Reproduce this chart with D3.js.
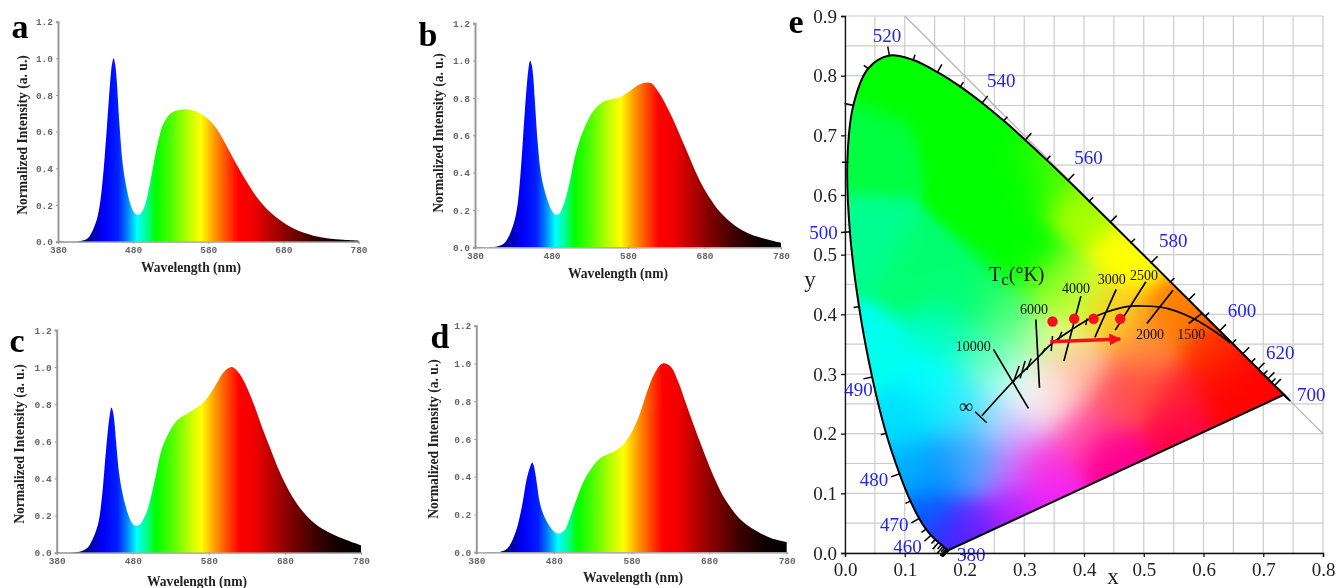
<!DOCTYPE html>
<html>
<head>
<meta charset="utf-8">
<style>
  html, body { margin: 0; padding: 0; background: #fff; }
  svg { display: block; filter: blur(0.4px); }
  .spec .tick text { font-family: "Liberation Mono", monospace; font-size: 9.5px; font-weight: bold; fill: #666; }
  .spec .tick line { stroke: #999; }
  .spec .domain { stroke: #999; }
  .title { font-family: "Liberation Serif", serif; font-weight: bold; font-size: 13.6px; fill: #222; }
  .letter { font-family: "Liberation Serif", serif; font-weight: bold; font-size: 34px; fill: #000; }
  .cie .tick text { font-family: "Liberation Serif", serif; font-size: 19px; fill: #222; }
  .cie .tick line, .cie .domain { stroke: #111; stroke-width: 1.3; }
  .wl { font-family: "Liberation Serif", serif; font-size: 19px; fill: #2323ee; text-anchor: middle; }
  .kelvin { font-family: "Liberation Serif", serif; font-size: 14px; fill: #111; text-anchor: middle; }
</style>
<script src="https://cdn.jsdelivr.net/npm/d3@7"></script>
</head>
<body>
<div id="chart"></div>
<script>
//wavelengths shared by the four spectra, finer around the blue peak
var wavelengths = [380,410,420,430,435,440,445,450,452,454,456,458,462,466,470,475,480,485,490,495,500,505,510,515,520,530,540,550,560,570,580,590,600,610,620,630,640,650,660,670,680,690,700,720,740,760,780];

var spectrumA = [.003,.004,.02,.10,.185,.36,.62,.90,.97,1,.97,.89,.63,.43,.32,.225,.168,.147,.153,.19,.27,.375,.485,.575,.64,.70,.717,.722,.715,.698,.668,.623,.556,.48,.405,.335,.27,.215,.17,.135,.105,.08,.06,.033,.018,.011,.006];
var spectrumB = [.003,.005,.03,.12,.21,.42,.72,.96,1,.98,.92,.80,.56,.40,.32,.25,.20,.175,.18,.22,.285,.375,.475,.55,.61,.70,.755,.785,.795,.805,.83,.86,.88,.88,.83,.76,.675,.58,.485,.39,.31,.245,.19,.115,.07,.045,.025];
var spectrumC = [.003,.005,.025,.10,.165,.32,.56,.75,.783,.76,.70,.60,.43,.33,.26,.195,.155,.145,.155,.19,.24,.32,.41,.51,.58,.665,.72,.745,.77,.80,.845,.91,.975,1,.965,.89,.79,.675,.57,.465,.375,.30,.24,.155,.105,.07,.04];
var spectrumD = [.002,.002,.02,.10,.17,.27,.39,.46,.475,.46,.42,.365,.26,.205,.17,.135,.11,.10,.105,.125,.175,.235,.29,.345,.39,.455,.50,.52,.54,.575,.635,.725,.85,.95,1,.985,.905,.79,.675,.565,.46,.365,.285,.175,.115,.075,.055];

var specXTicks = [380,480,580,680,780];
var specYTicks = [0,.2,.4,.6,.8,1,1.2];

//colour of the fill along the wavelength axis
var rainbowNm = [380,410,430,442,460,472,485,498,510,535,555,570,590,620,640,680,720,750,780];
var rainbowColor = ['#000018','#000060','#0000c0','#0000ff','#0020ff','#0080ff','#00ffff','#00ff90','#00ff00','#60ff00','#c0ff00','#ffff00','#ff9000','#ff0000','#f00000','#900000','#3c0000','#100000','#000000'];

//CIE 1931 spectral locus, every 5 nm
var locusNm = [380,385,390,395,400,405,410,415,420,425,430,435,440,445,450,455,460,465,470,475,480,485,490,495,500,505,510,515,520,525,530,535,540,545,550,555,560,565,570,575,580,585,590,595,600,605,610,615,620,625,630,635,640,645,650,655,660,665,670,675,680,685,690,695,700];
var locusX = [.1741,.1740,.1738,.1736,.1733,.1730,.1726,.1721,.1714,.1703,.1689,.1669,.1644,.1611,.1566,.1510,.1440,.1355,.1241,.1096,.0913,.0687,.0454,.0235,.0082,.0039,.0139,.0389,.0743,.1142,.1547,.1929,.2296,.2658,.3016,.3373,.3731,.4087,.4441,.4788,.5125,.5448,.5752,.6029,.6270,.6482,.6658,.6801,.6915,.7006,.7079,.7140,.7190,.7230,.7260,.7283,.7300,.7311,.7320,.7327,.7334,.7340,.7344,.7346,.7347];
var locusY = [.0050,.0050,.0049,.0049,.0048,.0048,.0048,.0048,.0051,.0058,.0069,.0086,.0109,.0138,.0177,.0227,.0297,.0399,.0578,.0868,.1327,.2007,.2950,.4127,.5384,.6548,.7502,.8120,.8338,.8262,.8059,.7816,.7543,.7243,.6923,.6589,.6245,.5896,.5547,.5202,.4866,.4544,.4242,.3965,.3725,.3514,.3340,.3197,.3083,.2993,.2920,.2859,.2809,.2770,.2740,.2717,.2700,.2689,.2680,.2673,.2666,.2660,.2656,.2654,.2653];

var wlLabels = ['380','460','470','480','490','500','520','540','560','580','600','620','700'];
var wlLabelX = [.2115,.1045,.0825,.0485,.0225,-.036,.0705,.2615,.4075,.5495,.6645,.7285,.7805];
var wlLabelY = [-.002,.0115,.0485,.1235,.2745,.5375,.8675,.7925,.6635,.5235,.4075,.3355,.2665];

//colours read inside the horseshoe, blended between these spots
var gamutX = [.08,.20,.30,.25,.03,.02,.13,.30,.04,.167,.15,.223,.29,.30,.321,.335,.357,.357,.39,.35,.40,.35,.475,.447,.558,.50,.39,.614,.65,.70,.64,.558,.447,.558,.447,.335,.335,.296,.279,.279,.223,.25,.20,.167,.11,.14,.173,.21,.10,.20,.25,.26,.21,.39,.50,.17];
var gamutY = [.80,.72,.62,.59,.68,.52,.46,.50,.33,.368,.30,.34,.35,.268,.273,.256,.283,.357,.424,.45,.58,.63,.50,.396,.396,.34,.31,.34,.30,.28,.26,.256,.256,.211,.161,.145,.10,.206,.145,.072,.145,.22,.25,.145,.145,.06,.016,.04,.22,.18,.30,.40,.42,.21,.28,.24];
var gamutColor = ['#00ff00','#00ff00','#00ff00','#00ff00','#00ff40','#00ff90','#00ff70','#00ff00','#00ffee','#00ffc0','#00ffff','#40ffb0','#90ffa0','#e0ffff','#ffffff','#ffe0e0','#ffc8b8','#e8ff90','#d0ff30','#80ff20','#a8ff00','#50ff00','#ffff00','#ffc820','#ff8000','#ff9040','#ffb898','#ff3000','#ff1000','#ff0000','#ff0000','#ff2030','#ff5060','#ff0050','#ff0090','#ff30d0','#f020ff','#e0a0ff','#d070ff','#b020ff','#60a0ff','#a0e0ff','#50e8ff','#0090ff','#00b0ff','#0060ff','#4020ff','#7020ff','#00e0ff','#40b0ff','#90ffe0','#40ff70','#00ff70','#ff50a8','#ff5040','#00f0ff'];
var gamutSigma = .033;

//planckian locus
var planckX = [.229,.281,.321,.346,.382,.405,.438,.472,.499,.539,.583,.628,.645];
var planckY = [.230,.287,.326,.351,.376,.390,.404,.413,.414,.410,.393,.365,.352];

var isoNames = ['10000','6000','4000','3000','2500','2000','1500'];
var isoX1 = [.2485,.3194,.3948,.4539,.5036,.5489,.5974];
var isoY1 = [.3412,.3914,.4305,.4417,.4545,.4405,.4015];
var isoX2 = [.307,.3255,.3663,.4182,.4523,.5053,.5751];
var isoY2 = [.2423,.2769,.3216,.3613,.3735,.3847,.3847];
var isoLabelX = [.2145,.3165,.3865,.4465,.5005,.5105,.5795];
var isoLabelY = [.3475,.4095,.4435,.4585,.4655,.3675,.3675];

//end cap at infinity, then the short marks along the planckian curve
var minorX1 = [.2178,.2915,.3015,.3116,.335,.3473,.3629,.4048];
var minorY1 = [.2367,.3133,.3217,.3261,.3429,.3636,.3709,.3931];
var minorX2 = [.2373,.282,.2931,.3043,.3294,.3451,.3573,.4031];
var minorY2 = [.2183,.2869,.2926,.3066,.3333,.3384,.3568,.3819];

var dotX = [.3473,.3836,.416,.4606];
var dotY = [.388,.3925,.3925,.3925];
var arrowX = [.3434,.4606];
var arrowY = [.354,.3585];

var cieXTicks = [0,.1,.2,.3,.4,.5,.6,.7,.8];
var cieYTicks = [0,.1,.2,.3,.4,.5,.6,.7,.8,.9];
var gridStep = d3.range(0, 19).map(function(i) { return i * .05; });

var width = 1338, height = 588;
var svg = d3.select('#chart').append('svg').attr('width', width).attr('height', height);
var defs = svg.append('defs');

//spectrum panels
function drawSpectrum(id, values, box) {
  var x = d3.scaleLinear().domain([380, 780]).range([box.left, box.right]);
  var y = d3.scaleLinear().domain([0, 1.2]).range([box.bottom, box.top]);
  var g = svg.append('g').attr('class', 'spec');

  var grad = defs.append('linearGradient').attr('id', 'rainbow-' + id)
    .attr('gradientUnits', 'userSpaceOnUse')
    .attr('x1', x(380)).attr('x2', x(780)).attr('y1', 0).attr('y2', 0);
  grad.selectAll('stop').data(rainbowNm).enter().append('stop')
    .attr('offset', function(d) { return (d - 380) / 400; })
    .attr('stop-color', function(d, i) { return rainbowColor[i]; });

  var area = d3.area()
    .x(function(d, i) { return x(wavelengths[i]); })
    .y0(y(0))
    .y1(function(d) { return y(d); })
    .curve(d3.curveCatmullRom);
  g.append('path').datum(values).attr('d', area).attr('fill', 'url(#rainbow-' + id + ')');

  var xAxis = g.append('g').attr('transform', 'translate(0,' + y(0) + ')')
    .call(d3.axisBottom(x).tickValues(specXTicks).tickSize(2).tickPadding(3).tickFormat(d3.format('d')));
  xAxis.select('.domain').attr('stroke-width', 1.2);

  var yAxis = g.append('g').attr('transform', 'translate(' + x(380) + ',0)')
    .call(d3.axisLeft(y).tickValues(specYTicks).tickSize(2).tickPadding(3).tickFormat(d3.format('.1f')));
  yAxis.select('.domain').attr('stroke-width', 2);

  svg.append('text').attr('class', 'title').attr('text-anchor', 'middle')
    .attr('x', box.xTitleX).attr('y', box.xTitleY).text('Wavelength (nm)');
  svg.append('text').attr('class', 'title').attr('text-anchor', 'middle')
    .attr('transform', 'translate(' + box.yTitleX + ',' + box.yTitleY + ') rotate(-90)')
    .text('Normalized Intensity (a. u.)');
  svg.append('text').attr('class', 'letter').attr('text-anchor', 'middle')
    .attr('x', box.letterX).attr('y', box.letterY).text(id);
}

drawSpectrum('a', spectrumA, {left: 58, right: 358.5, top: 21.7, bottom: 241.7, xTitleX: 191, xTitleY: 272, yTitleX: 27, yTitleY: 135, letterX: 20, letterY: 38});
drawSpectrum('b', spectrumB, {left: 475, right: 781, top: 23.3, bottom: 247.3, xTitleX: 618, xTitleY: 278, yTitleX: 443, yTitleY: 133, letterX: 428, letterY: 46});
drawSpectrum('c', spectrumC, {left: 56.7, right: 361, top: 330, bottom: 552.7, xTitleX: 197, xTitleY: 586, yTitleX: 24, yTitleY: 444, letterX: 17, letterY: 352});
drawSpectrum('d', spectrumD, {left: 476.3, right: 786.7, top: 325.7, bottom: 552.3, xTitleX: 633, xTitleY: 582, yTitleX: 438, yTitleY: 439, letterX: 440, letterY: 348});

//chromaticity panel
var cx = d3.scaleLinear().domain([0, .8]).range([845, 1323]);
var cy = d3.scaleLinear().domain([0, .9]).range([553, 16]);
var cie = svg.append('g').attr('class', 'cie');

cie.append('g').selectAll('line').data(gridStep.filter(function(d) { return d <= .8; })).enter().append('line')
  .attr('x1', function(d) { return cx(d); }).attr('x2', function(d) { return cx(d); })
  .attr('y1', cy(0)).attr('y2', cy(.9)).attr('stroke', '#ccc').attr('stroke-width', 1.2);
cie.append('g').selectAll('line').data(gridStep).enter().append('line')
  .attr('x1', cx(0)).attr('x2', cx(.8))
  .attr('y1', function(d) { return cy(d); }).attr('y2', function(d) { return cy(d); })
  .attr('stroke', '#ccc').attr('stroke-width', 1.2);
cie.append('line').attr('x1', cx(.1)).attr('y1', cy(.9)).attr('x2', cx(.8)).attr('y2', cy(.2))
  .attr('stroke', '#b4b4b4').attr('stroke-width', 1.2);

//blend the read colour spots with a soft kernel, painted into a canvas and used as an image
var gamutRgb = gamutColor.map(function(c) { return d3.rgb(c); });
function xyColor(px, py) {
  var r = 0, g = 0, b = 0, sum = 1e-9;
  for (var i = 0; i < gamutRgb.length; i++) {
    var dx = px - gamutX[i], dy = py - gamutY[i];
    var w = Math.exp(-(dx * dx + dy * dy) / (2 * gamutSigma * gamutSigma));
    r += w * gamutRgb[i].r; g += w * gamutRgb[i].g; b += w * gamutRgb[i].b;
    sum += w;
  }
  return [r / sum, g / sum, b / sum];
}

var imgW = Math.ceil(cx(.8) - cx(0)), imgH = Math.ceil(cy(0) - cy(.9));
var canvas = document.createElement('canvas');
canvas.width = imgW; canvas.height = imgH;
var ctx = canvas.getContext('2d');
var pixels = ctx.createImageData(imgW, imgH);
for (var j = 0; j < imgH; j++) {
  for (var k = 0; k < imgW; k++) {
    var c = xyColor(cx.invert(cx(0) + k), cy.invert(cy(.9) + j));
    var o = (j * imgW + k) * 4;
    pixels.data[o] = c[0]; pixels.data[o + 1] = c[1]; pixels.data[o + 2] = c[2]; pixels.data[o + 3] = 255;
  }
}
ctx.putImageData(pixels, 0, 0);

var locusLine = d3.line()
  .x(function(d, i) { return cx(locusX[i]); })
  .y(function(d, i) { return cy(locusY[i]); })
  .curve(d3.curveCatmullRom);
var locusPath = locusLine(locusNm);

defs.append('clipPath').attr('id', 'horseshoe').append('path').attr('d', locusPath + 'Z');
cie.append('image').attr('x', cx(0)).attr('y', cy(.9)).attr('width', imgW).attr('height', imgH)
  .attr('href', canvas.toDataURL()).attr('clip-path', 'url(#horseshoe)');

//edge of the horseshoe and the purple line
cie.append('path').attr('d', locusPath + 'Z').attr('fill', 'none').attr('stroke', '#000').attr('stroke-width', 2);

//wavelength ticks, longer every 10 nm, pointing out of the horseshoe
cie.append('g').selectAll('line').data(locusNm).enter().append('line')
  .each(function(d, i) {
    var a = Math.max(i - 1, 0), b = Math.min(i + 1, locusNm.length - 1);
    var dx = cx(locusX[b]) - cx(locusX[a]), dy = cy(locusY[b]) - cy(locusY[a]);
    var n = Math.sqrt(dx * dx + dy * dy) || 1;
    var nx = dy / n, ny = -dx / n;
    if (d > 640) { nx = .7; ny = .7; }
    if (d < 425) { nx = -.7; ny = .7; }
    var len = d % 10 === 0 ? 9 : 5.5;
    d3.select(this)
      .attr('x1', cx(locusX[i]) - nx).attr('y1', cy(locusY[i]) - ny)
      .attr('x2', cx(locusX[i]) + nx * len).attr('y2', cy(locusY[i]) + ny * len);
  })
  .attr('stroke', '#000').attr('stroke-width', 1.5);

cie.append('g').selectAll('text').data(wlLabels).enter().append('text')
  .attr('class', 'wl').attr('dy', '.35em')
  .attr('x', function(d, i) { return cx(wlLabelX[i]); })
  .attr('y', function(d, i) { return cy(wlLabelY[i]); })
  .text(function(d) { return d; });

//axes on top of the grid
cie.append('g').attr('transform', 'translate(0,' + cy(0) + ')')
  .call(d3.axisBottom(cx).tickValues(cieXTicks).tickSize(4).tickPadding(6).tickFormat(d3.format('.1f')));
cie.append('g').attr('transform', 'translate(' + cx(0) + ',0)')
  .call(d3.axisLeft(cy).tickValues(cieYTicks).tickSize(4).tickPadding(4).tickFormat(d3.format('.1f')));

//planckian locus with its isotherms
cie.append('path').datum(planckX)
  .attr('d', d3.line().x(function(d) { return cx(d); }).y(function(d, i) { return cy(planckY[i]); }).curve(d3.curveCatmullRom))
  .attr('fill', 'none').attr('stroke', '#000').attr('stroke-width', 1.7);
cie.append('g').selectAll('line').data(isoNames).enter().append('line')
  .attr('x1', function(d, i) { return cx(isoX1[i]); }).attr('y1', function(d, i) { return cy(isoY1[i]); })
  .attr('x2', function(d, i) { return cx(isoX2[i]); }).attr('y2', function(d, i) { return cy(isoY2[i]); })
  .attr('stroke', '#000').attr('stroke-width', 1.7);
cie.append('g').selectAll('line').data(minorX1).enter().append('line')
  .attr('x1', function(d, i) { return cx(minorX1[i]); }).attr('y1', function(d, i) { return cy(minorY1[i]); })
  .attr('x2', function(d, i) { return cx(minorX2[i]); }).attr('y2', function(d, i) { return cy(minorY2[i]); })
  .attr('stroke', '#000').attr('stroke-width', 1.5);
cie.append('g').selectAll('text').data(isoNames).enter().append('text')
  .attr('class', 'kelvin').attr('dy', '.35em')
  .attr('x', function(d, i) { return cx(isoLabelX[i]); })
  .attr('y', function(d, i) { return cy(isoLabelY[i]); })
  .text(function(d) { return d; });

//measured points and the arrow
cie.append('g').selectAll('circle').data(dotX).enter().append('circle')
  .attr('cx', function(d) { return cx(d); }).attr('cy', function(d, i) { return cy(dotY[i]); })
  .attr('r', 5.2).attr('fill', '#f2101c');
defs.append('marker').attr('id', 'head').attr('viewBox', '0 0 10 10').attr('refX', 9).attr('refY', 5)
  .attr('markerWidth', 12).attr('markerHeight', 12).attr('markerUnits', 'userSpaceOnUse').attr('orient', 'auto')
  .append('path').attr('d', 'M0,0L10,5L0,10Z').attr('fill', '#f2101c');
cie.append('line').attr('x1', cx(arrowX[0])).attr('y1', cy(arrowY[0])).attr('x2', cx(arrowX[1])).attr('y2', cy(arrowY[1]))
  .attr('stroke', '#f2101c').attr('stroke-width', 3.5).attr('marker-end', 'url(#head)');

//free labels
var tc = svg.append('text').attr('x', 989).attr('y', 281).attr('font-family', '"Liberation Serif", serif').attr('font-size', 20).attr('fill', '#111');
tc.append('tspan').text('T');
tc.append('tspan').attr('dy', 4).attr('font-size', 17).text('c');
tc.append('tspan').attr('dy', -4).text('(°K)');
svg.append('text').attr('x', 966).attr('y', 406).attr('dy', '.35em').attr('text-anchor', 'middle')
  .attr('font-family', '"Liberation Serif", serif').attr('font-size', 20).attr('fill', '#111').text('∞');
svg.append('text').attr('x', 1113).attr('y', 584).attr('text-anchor', 'middle')
  .attr('font-family', '"Liberation Serif", serif').attr('font-size', 23).attr('fill', '#222').text('x');
svg.append('text').attr('x', 810).attr('y', 287).attr('text-anchor', 'middle')
  .attr('font-family', '"Liberation Serif", serif').attr('font-size', 23).attr('fill', '#222').text('y');
svg.append('text').attr('class', 'letter').attr('text-anchor', 'middle').attr('x', 796).attr('y', 33).text('e');
</script>
</body>
</html>
